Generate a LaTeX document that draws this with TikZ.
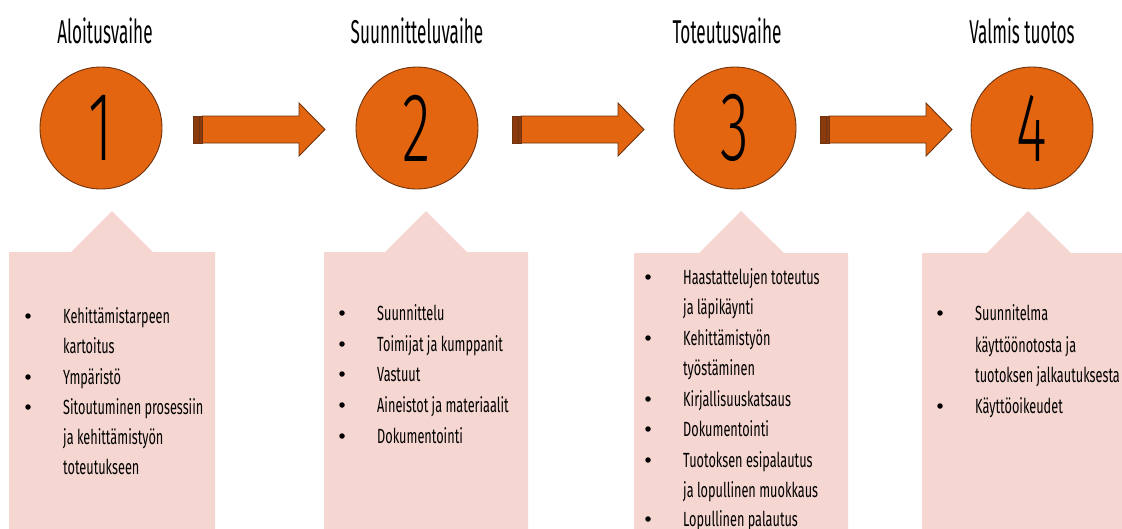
\documentclass[tikz,border=0pt]{standalone}
\usepackage{fontspec}
\setmainfont[FakeStretch=0.62]{Fira Sans}
\newfontfamily\titlefont[FakeStretch=0.52]{Fira Sans}
\newfontfamily\digitfont[FakeStretch=0.6, UprightFont=* Light]{Fira Sans}
\definecolor{orng}{HTML}{E4650F}
\definecolor{brwn}{HTML}{6E3410}
\definecolor{stub}{HTML}{8A3A0C}
\definecolor{pinkbox}{HTML}{F5D6D1}
\tikzset{
  phase/.style={circle, fill=orng, draw=brwn, line width=0.9pt, minimum size=122pt, inner sep=0pt,
    font=\digitfont\fontsize{98}{98}\selectfont},
  title/.style={anchor=base, font=\titlefont\fontsize{33}{33}\selectfont},
  item/.style={anchor=base west, inner sep=0pt, font=\fontsize{20.5}{21}\selectfont},
  bul/.style={circle, fill=black, inner sep=0pt, minimum size=5.5pt},
  card/.style={fill=pinkbox, draw=none},
  blockarrow/.style={fill=orng, draw=brwn, line width=0.9pt, line join=miter},
}
\newcommand{\bitem}[4]{% bullet x, text x, y, text
  \node[bul] at (#1,#3-7) {};
  \node[item] at (#2,#3) {#4};}
\newcommand{\titem}[3]{\node[item] at (#1,#2) {#3};}
\begin{document}
\begin{tikzpicture}[x=1pt,y=-1pt]
\useasboundingbox (0,0) rectangle (1122,528);
\clip (0,0) rectangle (1122,528);
\fill[white] (0,0) rectangle (1122,528);

% titles
\node[title] (t1) at (105,43) {Aloitusvaihe};
\node[title] (t2) at (417,43) {Suunnitteluvaihe};
\node[title] (t3) at (727,43) {Toteutusvaihe};
\node[title] (t4) at (1022,43) {Valmis tuotos};

% circles
\node[phase] (c1) at (101,128) {1};
\node[phase] (c2) at (417,128) {2};
\node[phase] (c3) at (735,128) {3};
\node[phase] (c4) at (1032,128) {4};

% arrows
\foreach \x in {193,512,820}{
  \draw[blockarrow] (\x+9,116) -- (\x+106,116) -- (\x+106,103) -- (\x+132,129.5)
     -- (\x+106,156) -- (\x+106,143) -- (\x+9,143) -- cycle;
  \draw[fill=stub, draw=brwn, line width=0.6pt] (\x,116) rectangle (\x+9,143);
  \draw[brwn, line width=0.6pt] (\x+6,116) -- (\x+6,143);
}

% cards
\fill[card] (9,540) -- (9,252) -- (71,252) -- (112,211) -- (153,252) -- (215,252) -- (215,540) -- cycle;
\fill[card] (324,540) -- (324,252) -- (385,252) -- (426,211) -- (467,252) -- (528,252) -- (528,540) -- cycle;
\fill[card] (634,540) -- (634,253) -- (699,253) -- (741,211) -- (784,253) -- (848,253) -- (848,540) -- cycle;
\fill[card] (922,540) -- (922,253) -- (987,253) -- (1028,211) -- (1071,253) -- (1130,253) -- (1130,540) -- cycle;

% card 1
\bitem{28}{63}{323}{Kehittämistarpeen}
\titem{63}{353}{kartoitus}
\bitem{28}{63}{384}{Ympäristö}
\bitem{28}{63}{414}{Sitoutuminen prosessiin}
\titem{63}{444}{ja kehittämistyön}
\titem{63}{474}{toteutukseen}

% card 2
\bitem{342}{377}{320}{Suunnittelu}
\bitem{342}{377}{351}{Toimijat ja kumppanit}
\bitem{342}{377}{381}{Vastuut}
\bitem{342}{377}{412}{Aineistot ja materiaalit}
\bitem{342}{377}{443}{Dokumentointi}

% card 3
\bitem{648}{683}{284}{Haastattelujen toteutus}
\titem{683}{314}{ja läpikäynti}
\bitem{648}{683}{345}{Kehittämistyön}
\titem{683}{375}{työstäminen}
\bitem{648}{683}{406}{Kirjallisuuskatsaus}
\bitem{648}{683}{436}{Dokumentointi}
\bitem{648}{683}{467}{Tuotoksen esipalautus}
\titem{683}{497}{ja lopullinen muokkaus}
\bitem{648}{683}{526}{Lopullinen palautus}

% card 4
\bitem{940}{975}{320}{Suunnitelma}
\titem{975}{352}{käyttöönotosta ja}
\titem{975}{382}{tuotoksen jalkautuksesta}
\bitem{940}{975}{413}{Käyttöoikeudet}
\end{tikzpicture}
\end{document}
